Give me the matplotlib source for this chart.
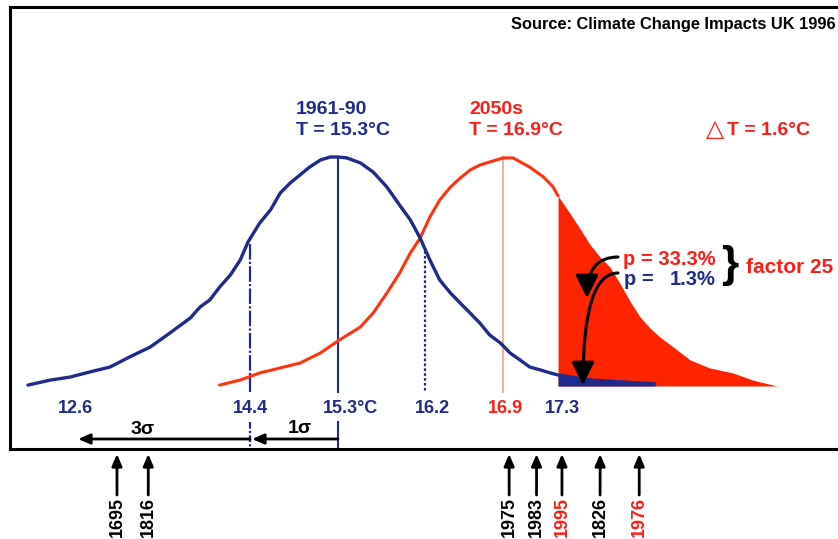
import matplotlib.pyplot as plt
from matplotlib.patches import FancyArrowPatch

# curves: temperature (degC, as drawn) and relative frequency (peak = 1)
blue_t = [12.13, 12.36, 12.56, 12.76, 12.97, 13.17, 13.38, 13.58, 13.79, 13.89, 13.99, 14.09,
          14.20, 14.30, 14.38, 14.50, 14.61, 14.71, 14.81, 14.91, 15.01, 15.12, 15.22, 15.30,
          15.39, 15.53, 15.66, 15.80, 15.93, 16.04, 16.14, 16.24, 16.34, 16.45, 16.55, 16.65,
          16.75, 16.85, 16.96, 17.06, 17.16, 17.26, 17.37, 17.47, 17.55, 17.88, 18.54]
blue_f = [0.004, 0.026, 0.039, 0.061, 0.083, 0.127, 0.170, 0.231, 0.297, 0.345, 0.376, 0.432,
          0.485, 0.550, 0.629, 0.712, 0.769, 0.843, 0.886, 0.921, 0.956, 0.987, 1.0, 1.0,
          0.996, 0.974, 0.934, 0.869, 0.790, 0.725, 0.646, 0.550, 0.463, 0.406, 0.362, 0.319,
          0.275, 0.223, 0.188, 0.144, 0.114, 0.083, 0.070, 0.057, 0.048, 0.026, 0.009]

red_t = [14.09, 14.30, 14.50, 14.71, 14.91, 15.12, 15.30, 15.53, 15.66, 15.80, 15.93, 16.04,
         16.14, 16.24, 16.34, 16.45, 16.55, 16.65, 16.75, 16.85, 16.99, 17.09, 17.26, 17.40,
         17.50, 17.55, 17.67, 17.77, 17.88, 17.98, 18.08, 18.18, 18.29, 18.39, 18.49, 18.59,
         18.73, 18.90, 19.10, 19.34, 19.54, 19.79]
red_f = [0.004, 0.026, 0.057, 0.079, 0.100, 0.144, 0.197, 0.258, 0.319, 0.406, 0.493, 0.581,
         0.646, 0.738, 0.812, 0.869, 0.908, 0.943, 0.965, 0.978, 0.996, 0.996, 0.956, 0.913,
         0.869, 0.830, 0.755, 0.690, 0.616, 0.563, 0.520, 0.450, 0.367, 0.301, 0.253, 0.214,
         0.170, 0.114, 0.079, 0.057, 0.026, 0.0]

# threshold 17.3 degC (drawn position)
thresh = 17.55

# years marked under the axis
years = ['1695', '1816', '1975', '1983', '1995', '1826', '1976']
year_t = [13.04, 13.36, 17.05, 17.33, 17.59, 17.98, 18.38]
year_red = [False, False, False, False, True, False, True]

navy = '#1e2a8c'
red = '#ff1c14'
fill_red = '#ff2400'

plt.rcParams['font.family'] = ['Liberation Sans', 'DejaVu Sans']
plt.rcParams['font.weight'] = 'bold'


# picture pixels -> data units (for placing annotations)
def X(px):
    return 15.3 + (px - 338) / 97.8


def Y(py):
    return (386 - py) / 229.0


fig = plt.figure(figsize=(8.38, 5.39), dpi=100)
ax = fig.add_axes([10 / 838, 90 / 539, 835 / 838, 442 / 539])
ax.set_xlim(X(10), X(845))
ax.set_ylim(Y(449), Y(7))
ax.set_xticks([])
ax.set_yticks([])
for s in ax.spines.values():
    s.set_linewidth(2.2)
    s.set_color('black')

# tails beyond 17.3
rx = [t for t in red_t if t >= thresh]
ry = [f for t, f in zip(red_t, red_f) if t >= thresh]
ax.fill_between(rx, 0, ry, color=fill_red, lw=0, zorder=2)
bx = [t for t in blue_t if t >= thresh]
by = [f for t, f in zip(blue_t, blue_f) if t >= thresh]
ax.fill_between(bx, 0, by, color=navy, lw=0, zorder=3)

# curves
ax.plot([t for t in red_t if t <= thresh], [f for t, f in zip(red_t, red_f) if t <= thresh],
        color='#ff3310', lw=2.2, solid_joinstyle='round', solid_capstyle='round', zorder=3)
ax.plot(blue_t, blue_f, color=navy, lw=2.4, solid_joinstyle='round', solid_capstyle='round',
        zorder=4)

# vertical markers
ax.plot([15.3, 15.3], [1.0, Y(392)], color=navy, lw=1.5, zorder=2)
ax.plot([15.3, 15.3], [Y(422), Y(447)], color=navy, lw=1.5)
ax.plot([14.4, 14.4], [0.62, Y(392)], color=navy, lw=1.6, ls=(0, (7, 1, 1, 1)), zorder=2)
ax.plot([14.4, 14.4], [Y(422), Y(447)], color=navy, lw=1.6, ls=(0, (3, 1, 1, 1)))
ax.plot([X(425), X(425)], [0.59, Y(392)], color=navy, lw=1.6, ls=(0, (1.2, 1)), zorder=2)
ax.plot([X(503), X(503)], [1.0, Y(392)], color='#f6a88c', lw=1.3, zorder=1)

# value labels
ax.text(X(75), Y(413), '12.6', color=navy, ha='center', va='baseline', fontsize=13)
ax.text(X(250), Y(413), '14.4', color=navy, ha='center', va='baseline', fontsize=13)
ax.text(X(323), Y(413), '15.3°C', color=navy, ha='left', va='baseline', fontsize=13)
ax.text(X(432), Y(413), '16.2', color=navy, ha='center', va='baseline', fontsize=13)
ax.text(X(505), Y(413), '16.9', color=red, ha='center', va='baseline', fontsize=13)
ax.text(X(562), Y(413), '17.3', color=navy, ha='center', va='baseline', fontsize=13)

# sigma arrows
arr = dict(arrowstyle='-|>,head_length=0.7,head_width=0.3', color='black', lw=2,
           shrinkA=0, shrinkB=0)
ax.annotate('', xy=(X(252), Y(439)), xytext=(X(338), Y(439)), arrowprops=arr)
ax.annotate('', xy=(X(78), Y(439)), xytext=(X(250), Y(439)), arrowprops=arr)
ax.text(X(300), Y(433), '1σ', ha='center', va='baseline', fontsize=14)
ax.text(X(143), Y(434), '3σ', ha='center', va='baseline', fontsize=14)

# headings
ax.text(X(296), Y(114), '1961-90', color=navy, fontsize=14, va='baseline')
ax.text(X(296), Y(135), 'T = 15.3°C', color=navy, fontsize=14, va='baseline')
ax.text(X(469), Y(114), '2050s', color=red, fontsize=14, va='baseline')
ax.text(X(469), Y(135), 'T = 16.9°C', color=red, fontsize=14, va='baseline')
ax.text(X(715), Y(136), '△', color=red, fontsize=17, va='baseline', ha='center',
        family='DejaVu Sans')
ax.text(X(727), Y(135), 'T = 1.6°C', color=red, fontsize=14, va='baseline')
ax.text(X(836), Y(29), 'Source: Climate Change Impacts UK 1996', fontsize=11.8,
        ha='right', va='baseline')

# probabilities
ax.text(X(716), Y(265), 'p = 33.3%', color=red, fontsize=14.5, va='baseline', ha='right')
ax.text(X(624), Y(285), 'p =', color=navy, fontsize=14.5, va='baseline')
ax.text(X(716), Y(285), '1.3%', color=navy, fontsize=14.5, va='baseline', ha='right')
ax.text(X(730), Y(266), '}', fontsize=32, ha='center', va='center')
ax.text(X(746), Y(273), 'factor 25', color=red, fontsize=15, va='baseline')

cur = dict(arrowstyle='-|>,head_length=0.7,head_width=0.35', color='black', lw=2.2,
           mutation_scale=20, shrinkA=0, shrinkB=0, zorder=6)
ax.add_patch(FancyArrowPatch((X(618), Y(257)), (X(587), Y(298)),
                             connectionstyle='angle3,angleA=180,angleB=90', **cur))
ax.add_patch(FancyArrowPatch((X(618), Y(273)), (X(583), Y(385)),
                             connectionstyle='angle3,angleA=180,angleB=90', **cur))

# year arrows below the box
for t, y, is_red in zip(year_t, years, year_red):
    ax.annotate('', xy=(t, Y(454)), xytext=(t, Y(495)), arrowprops=arr, annotation_clip=False)
    ax.text(t, Y(517), y, rotation=90, ha='center', va='center', fontsize=13,
            color=red if is_red else 'black', clip_on=False)

fig.savefig('out.png', dpi=100)
